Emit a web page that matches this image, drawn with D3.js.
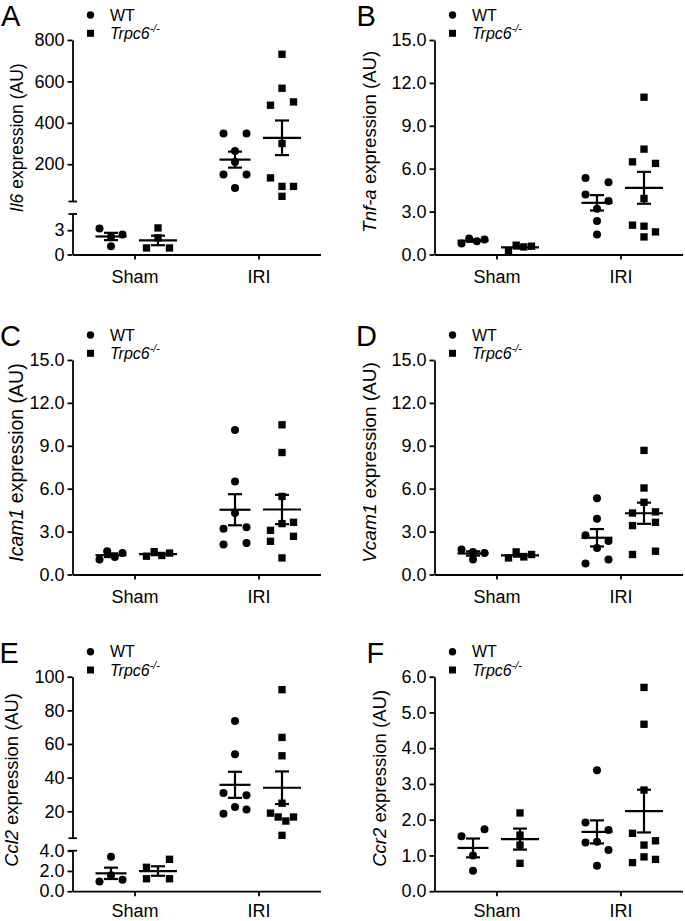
<!DOCTYPE html>
<html>
<head>
<meta charset="utf-8">
<script src="https://cdn.jsdelivr.net/npm/d3@7/dist/d3.min.js"></script>
<style>
  html, body { margin: 0; padding: 0; background: #fff; }
  svg { display: block; font-family: "Liberation Sans", Arial, Helvetica, sans-serif; }
</style>
</head>
<body>
<svg id="chart" width="685" height="921"></svg>
<script>
// ---------------- DATA ----------------
const categories = ["Sham", "IRI"];
const genotypes = ["WT", "Trpc6"];
const legendLabels = ["WT", "Trpc6"];
const legendSuperscript = "-/-";
const panelLetters = ["A", "B", "C", "D", "E", "F"];
const geneNames = ["Il6", "Tnf-a", "Icam1", "Vcam1", "Ccl2", "Ccr2"];
const axisSuffix = " expression (AU)";

// Il6 (broken axis)
const il6ShamWT = [3.2, 2.2, 2.47, 1.03];
const il6ShamKO = [3.28, 2.05, 0.81, 0.81];
const il6IriWT = [348, 348, 264, 211, 150, 150, 85];
const il6IriKO = [731, 567, 485, 501, 300, 134, 93, 93, 45];
const il6LowerTicks = [0, 3];
const il6UpperTicks = [200, 400, 600, 800];

// Tnf-a
const tnfShamWT = [0.77, 1.12, 0.93, 1.05];
const tnfShamKO = [0.25, 0.65, 0.53, 0.58];
const tnfIriWT = [5.35, 5.05, 4.2, 3.75, 3.2, 2.35, 1.4];
const tnfIriKO = [11.0, 7.37, 6.48, 6.37, 3.92, 2.05, 1.98, 1.58, 1.23];

// Icam1
const icamShamWT = [1.05, 1.62, 1.22, 1.5];
const icamShamKO = [1.28, 1.6, 1.33, 1.5];
const icamIriWT = [10.1, 6.5, 4.3, 3.2, 3.3, 2.1, 2.2];
const icamIriKO = [10.47, 8.53, 5.46, 3.09, 3.56, 3.65, 2.32, 2.67, 1.16];

// Vcam1
const vcamShamWT = [1.74, 1.58, 1.51, 1.05];
const vcamShamKO = [1.16, 1.58, 1.23, 1.4];
const vcamIriWT = [5.33, 3.9, 2.74, 2.34, 1.86, 0.77, 1.05];
const vcamIriKO = [8.68, 6.05, 5.05, 4.3, 4.38, 3.42, 3.65, 1.4, 1.63];

// Ccl2 (broken axis)
const ccl2ShamWT = [0.95, 1.58, 1.13, 3.4];
const ccl2ShamKO = [2.36, 3.15, 1.23, 1.23];
const ccl2IriWT = [73.7, 53.9, 30.9, 29.5, 18.6, 22.5, 21.0];
const ccl2IriKO = [92.3, 63.9, 53, 24.8, 18.9, 16.6, 14.2, 16.6, 5.7];
const ccl2LowerTicks = [0, 2, 4];
const ccl2UpperTicks = [20, 40, 60, 80, 100];

// Ccr2
const ccr2ShamWT = [1.54, 1.73, 1.0, 0.57];
const ccr2ShamKO = [2.19, 1.57, 1.29, 0.78];
const ccr2IriWT = [3.38, 1.92, 1.71, 1.36, 1.38, 1.15, 0.71];
const ccr2IriKO = [5.7, 4.67, 2.83, 1.62, 1.41, 1.29, 0.8, 0.96, 0.89];

const ticks15 = [0, 3, 6, 9, 12, 15];
const ticks6 = [0, 1, 2, 3, 4, 5, 6];

// ---------------- PANEL TABLE (built from arrays) ----------------
const panels = [
  { values: [[il6ShamWT, il6ShamKO], [il6IriWT, il6IriKO]],
    broken: { lower: [0, 5], upper: [20, 800], lowerTicks: il6LowerTicks, upperTicks: il6UpperTicks,
              lowerFmt: d3.format("d"), upperFmt: d3.format("d") } },
  { values: [[tnfShamWT, tnfShamKO], [tnfIriWT, tnfIriKO]], domain: [0, 15], ticks: ticks15, fmt: d3.format(".1f") },
  { values: [[icamShamWT, icamShamKO], [icamIriWT, icamIriKO]], domain: [0, 15], ticks: ticks15, fmt: d3.format(".1f") },
  { values: [[vcamShamWT, vcamShamKO], [vcamIriWT, vcamIriKO]], domain: [0, 15], ticks: ticks15, fmt: d3.format(".1f") },
  { values: [[ccl2ShamWT, ccl2ShamKO], [ccl2IriWT, ccl2IriKO]],
    broken: { lower: [0, 4], upper: [4, 100], lowerTicks: ccl2LowerTicks, upperTicks: ccl2UpperTicks,
              lowerFmt: d3.format(".1f"), upperFmt: d3.format("d") } },
  { values: [[ccr2ShamWT, ccr2ShamKO], [ccr2IriWT, ccr2IriKO]], domain: [0, 6], ticks: ticks6, fmt: d3.format(".1f") }
];

// ---------------- LAYOUT ----------------
const layout = {
  colX: [72.5, 434.5],
  rowTop: [40, 360, 676.7],
  xLabelPad: [10.5, 10.5, 8.5],
  plotH: 214.5,
  xLen: 248,
  lowerH: 40.5,
  gap: 12.5,
  groupOffset: 23.5,
  slotUnit: 11.5,
  rowThreshold: 9.2,
  meanW: [31, 38],
  capW: 14,
  letterDx: [-71.5, -78, -72.5, -78.5, -73, -68],
  labelDx: [-49.5, -58.5, -50, -58.5, -55, -48.5],
  labelDy: [-9.5, -5.5, -4.75, -4.75, -4, -5.6],
  labelSize: [17.5, 18.6, 19.5, 19, 18.4, 18.5]
};

const svg = d3.select("#chart");
const font = "'Liberation Sans', Arial, Helvetica, sans-serif";

function arrangePoints(vals, y) {
  const pts = vals.map((v, i) => ({ v, i, py: y(v) }));
  const sorted = pts.slice().sort((a, b) => a.py - b.py || a.i - b.i);
  const rows = [];
  let cur = null;
  sorted.forEach(p => {
    if (cur && p.py - cur[0].py < layout.rowThreshold) cur.push(p);
    else { cur = [p]; rows.push(cur); }
  });
  rows.forEach(r => {
    r.sort((a, b) => a.i - b.i);
    const n = r.length;
    r.forEach((p, k) => { p.slot = n === 1 ? 0 : (-1 + 2 * k / (n - 1)); });
  });
  return pts;
}

panels.forEach((p, idx) => {
  const col = idx % 2, row = Math.floor(idx / 2);
  const ax = layout.colX[col];
  const top = layout.rowTop[row];
  const bottom = top + layout.plotH;
  const g = svg.append("g");

  // Y scales
  let y, yAxes = [];
  if (p.broken) {
    const lower = d3.scaleLinear().domain(p.broken.lower).range([bottom, bottom - layout.lowerH]);
    const upper = d3.scaleLinear().domain(p.broken.upper).range([bottom - layout.lowerH - layout.gap, top]);
    const lmax = p.broken.lower[1];
    y = v => (v > lmax ? upper(v) : lower(v));
    yAxes.push({ scale: lower, ticks: p.broken.lowerTicks, fmt: p.broken.lowerFmt });
    yAxes.push({ scale: upper, ticks: p.broken.upperTicks, fmt: p.broken.upperFmt });
  } else {
    const s = d3.scaleLinear().domain(p.domain).range([bottom, top]);
    y = v => s(v);
    yAxes.push({ scale: s, ticks: p.ticks, fmt: p.fmt });
  }

  // X scales
  const xCat = d3.scalePoint().domain(categories).range([ax, ax + layout.xLen]).padding(0.5);
  const xGen = d3.scalePoint().domain(genotypes).range([-layout.groupOffset, layout.groupOffset]);

  // Y axes
  yAxes.forEach(a => {
    const axis = d3.axisLeft(a.scale).tickValues(a.ticks).tickFormat(a.fmt)
      .tickSize(5).tickSizeOuter(0).tickPadding(3);
    const ag = g.append("g").attr("transform", `translate(${ax},0)`).call(axis);
    ag.select(".domain").attr("stroke", "#000").attr("stroke-width", 1.8);
    ag.selectAll(".tick line").attr("stroke", "#000").attr("stroke-width", 1.8);
    ag.selectAll(".tick text").attr("font-size", 18).attr("font-family", font).attr("fill", "#000");
  });
  if (p.broken) {
    // break caps
    const capYs = [yAxes[0].scale.range()[1], yAxes[1].scale.range()[0]];
    g.selectAll(".brk").data(capYs).enter().append("line")
      .attr("x1", ax - 4).attr("x2", ax + 4.5)
      .attr("y1", d => d).attr("y2", d => d)
      .attr("stroke", "#000").attr("stroke-width", 1.8);
  }

  // X axis
  const xa = d3.axisBottom(xCat).tickSize(5).tickSizeOuter(0).tickPadding(layout.xLabelPad[row]);
  const xg = g.append("g").attr("transform", `translate(0,${bottom})`).call(xa);
  xg.select(".domain").attr("stroke", "#000").attr("stroke-width", 1.8);
  xg.selectAll(".tick line").attr("stroke", "#000").attr("stroke-width", 1.8);
  xg.selectAll(".tick text").attr("font-size", 18).attr("font-family", font).attr("fill", "#000");

  // Y label
  const lab = g.append("text")
    .attr("transform", `translate(${ax + layout.labelDx[idx]},${(top + bottom) / 2 + layout.labelDy[idx]}) rotate(-90)`)
    .attr("text-anchor", "middle").attr("font-size", layout.labelSize[idx])
    .attr("font-family", font).attr("fill", "#000");
  lab.append("tspan").attr("font-style", "italic").text(geneNames[idx]);
  lab.append("tspan").text(axisSuffix);

  // Panel letter
  g.append("text").attr("x", ax + layout.letterDx[idx]).attr("y", top - 14)
    .attr("font-size", 29).attr("font-family", font).attr("fill", "#000").text(panelLetters[idx]);

  // Legend
  const lx = ax + 18;
  const ly = [top - 25, top - 6.7];
  g.append("path").attr("transform", `translate(${lx},${ly[0]})`)
    .attr("d", d3.symbol().type(d3.symbolCircle).size(Math.PI * 3.7 * 3.7)()).attr("fill", "#000");
  g.append("path").attr("transform", `translate(${lx},${ly[1]})`)
    .attr("d", d3.symbol().type(d3.symbolSquare).size(49)()).attr("fill", "#000");
  g.append("text").attr("x", ax + 37.5).attr("y", ly[0] + 5.7).attr("font-size", 16)
    .attr("font-family", font).attr("fill", "#000").text(legendLabels[0]);
  const kt = g.append("text").attr("x", ax + 37.5).attr("y", ly[1] + 5.7).attr("font-size", 16)
    .attr("font-family", font).attr("fill", "#000").attr("font-style", "italic");
  kt.append("tspan").text(legendLabels[1]);
  kt.append("tspan").attr("font-size", 10.5).attr("dy", -7).text(legendSuperscript);

  // Data
  categories.forEach((cat, ci) => {
    genotypes.forEach((gen, gi) => {
      const vals = p.values[ci][gi];
      const cx = xCat(cat) + xGen(gen);
      const pts = arrangePoints(vals, y);
      const sym = d3.symbol().type(gi === 0 ? d3.symbolCircle : d3.symbolSquare)
        .size(gi === 0 ? Math.PI * 4 * 4 : 54)();
      g.selectAll(null).data(pts).enter().append("path")
        .attr("transform", d => `translate(${cx + d.slot * layout.slotUnit},${d.py})`)
        .attr("d", sym).attr("fill", "#000");

      const m = d3.mean(vals);
      const sem = d3.deviation(vals) / Math.sqrt(vals.length);
      const mw = layout.meanW[gi] / 2, cw = layout.capW / 2;
      const eg = g.append("g").attr("stroke", "#000").attr("stroke-width", 2.2);
      eg.append("line").attr("x1", cx - mw).attr("x2", cx + mw).attr("y1", y(m)).attr("y2", y(m));
      eg.append("line").attr("x1", cx).attr("x2", cx).attr("y1", y(m + sem)).attr("y2", y(m - sem));
      [m + sem, m - sem].forEach(v => {
        eg.append("line").attr("x1", cx - cw).attr("x2", cx + cw).attr("y1", y(v)).attr("y2", y(v));
      });
    });
  });
});
</script>
</body>
</html>
